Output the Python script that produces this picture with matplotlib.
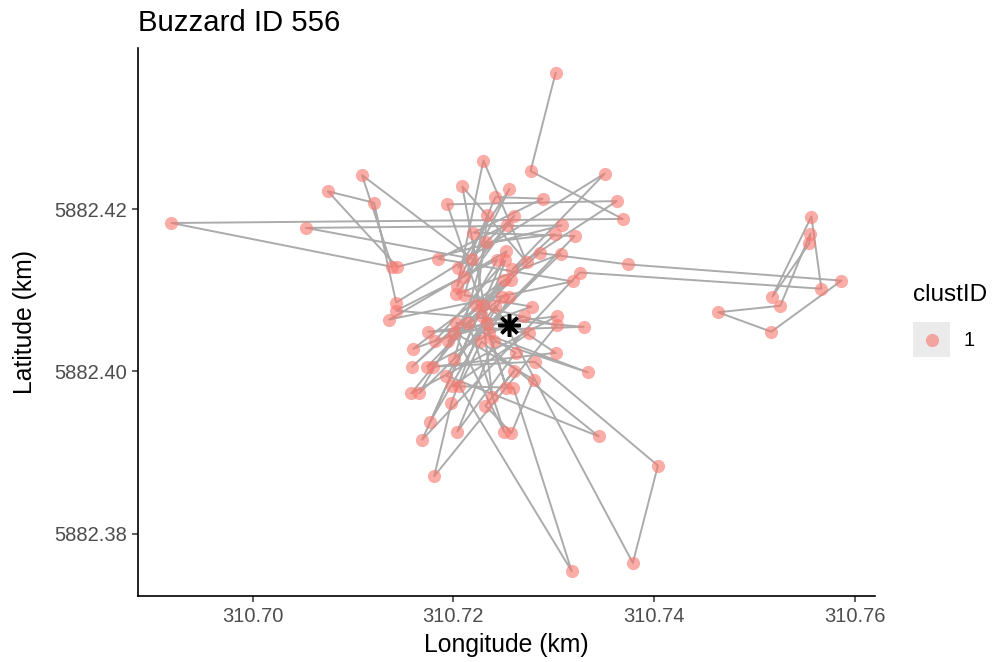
"""GPS-Track eines Mäusebussards mit Clusterzentrum."""

import matplotlib
matplotlib.use("Agg")
import matplotlib.pyplot as plt
from matplotlib.lines import Line2D
from matplotlib.patches import Rectangle

plt.rcParams["font.family"] = ["Liberation Sans", "DejaVu Sans"]

# Ortungen in zeitlicher Reihenfolge (km)
lon = [
    310.7302, 310.7277, 310.7369, 310.6919, 310.7139, 310.7109, 310.7219, 310.7053,
    310.7308, 310.7144, 310.7075, 310.7121, 310.7143, 310.7351, 310.7259, 310.7363,
    310.7194, 310.7234, 310.7209, 310.7273, 310.7230, 310.7204, 310.7242, 310.7289,
    310.7220, 310.7321, 310.7201, 310.7233, 310.7301, 310.7159, 310.7286, 310.7374,
    310.7587, 310.7517, 310.7464, 310.7526, 310.7556, 310.7555, 310.7518, 310.7557,
    310.7567, 310.7326, 310.7169, 310.7253, 310.7136, 310.7319, 310.7185, 310.7254,
    310.7211, 310.7256, 310.7205, 310.7261, 310.7203, 310.7307, 310.7166, 310.7244,
    310.7143, 310.7330, 310.7175, 310.7303, 310.7158, 310.7251, 310.7160, 310.7278,
    310.7211, 310.7234, 310.7223, 310.7303, 310.7181, 310.7198, 310.7252, 310.7182,
    310.7270, 310.7174, 310.7258, 310.7195, 310.7249, 310.7177, 310.7230, 310.7302,
    310.7180, 310.7281, 310.7404, 310.7379, 310.7242, 310.7193, 310.7345, 310.7228,
    310.7206, 310.7318, 310.7260, 310.7199, 310.7275, 310.7203, 310.7334, 310.7241,
    310.7204, 310.7262, 310.7215, 310.7251, 310.7201, 310.7280, 310.7258, 310.7232,
    310.7261, 310.7239, 310.7229, 310.7253, 310.7236, 310.7256,
]
lat = [
    5882.4368, 5882.4247, 5882.4188, 5882.4183, 5882.4129, 5882.4242, 5882.4139, 5882.4177,
    5882.4180, 5882.4129, 5882.4222, 5882.4208, 5882.4085, 5882.4244, 5882.4126, 5882.4210,
    5882.4206, 5882.4060, 5882.4228, 5882.4135, 5882.4260, 5882.4105, 5882.4215, 5882.4213,
    5882.4171, 5882.4167, 5882.4016, 5882.4159, 5882.4169, 5882.4006, 5882.4146, 5882.4132,
    5882.4112, 5882.4049, 5882.4073, 5882.4081, 5882.4170, 5882.4158, 5882.4092, 5882.4191,
    5882.4102, 5882.4122, 5882.3916, 5882.4148, 5882.4064, 5882.4111, 5882.4139, 5882.4181,
    5882.4117, 5882.4225, 5882.4128, 5882.4192, 5882.4095, 5882.4145, 5882.3973, 5882.4138,
    5882.4075, 5882.4055, 5882.4049, 5882.4068, 5882.3973, 5882.4113, 5882.4028, 5882.4080,
    5882.4094, 5882.4193, 5882.4082, 5882.4057, 5882.3871, 5882.3961, 5882.4137, 5882.4038,
    5882.4068, 5882.4006, 5882.4113, 5882.4038, 5882.4092, 5882.3938, 5882.4082, 5882.4023,
    5882.4006, 5882.4012, 5882.3884, 5882.3764, 5882.4081, 5882.3995, 5882.3920, 5882.4037,
    5882.3982, 5882.3754, 5882.3980, 5882.3982, 5882.4047, 5882.4060, 5882.3999, 5882.4037,
    5882.3926, 5882.4023, 5882.4060, 5882.3925, 5882.4048, 5882.3990, 5882.3924, 5882.3958,
    5882.4001, 5882.3969, 5882.4069, 5882.3980, 5882.4048, 5882.4092,
]

# Clusterzentrum
center_lon = [310.7256]
center_lat = [5882.4057]

clust_label = "1"
point_col = "#F8766D"

fig = plt.figure(figsize=(9.97, 6.62), dpi=100)
ax = fig.add_axes([0.1384, 0.0997, 0.7392, 0.8278])

ax.plot(lon, lat, color="#ABABAB", lw=1.4, zorder=2)
ax.plot(lon, lat, ls="none", marker="o", ms=9.5, color=point_col, alpha=0.6,
        markeredgewidth=0, zorder=3)
ax.plot(center_lon, center_lat, ls="none", marker=(8, 2, 0), ms=16,
        color="black", markeredgewidth=2.5, zorder=4)

ax.margins(0.05)
ax.set_xticks([310.70, 310.72, 310.74, 310.76])
ax.set_xticklabels(["310.70", "310.72", "310.74", "310.76"])
ax.set_yticks([5882.38, 5882.40, 5882.42])
ax.set_yticklabels(["5882.38", "5882.40", "5882.42"])

for s in ["top", "right"]:
    ax.spines[s].set_visible(False)
for s in ["left", "bottom"]:
    ax.spines[s].set_linewidth(1.2)
ax.tick_params(length=4, width=1.1, color="#333333", labelsize=14.5,
               labelcolor="#4D4D4D", pad=4)

ax.set_xlabel("Longitude (km)", fontsize=17.8, labelpad=5)
ax.set_ylabel("Latitude (km)", fontsize=17.8, labelpad=12)
ax.set_title("Buzzard ID 556", fontsize=21.2, loc="left", pad=12)

# Legende
fig.text(913 / 997, 1 - 295 / 662, "clustID", fontsize=17.5, va="center")
fig.patches.append(Rectangle((913 / 997, 1 - 357 / 662), 37 / 997, 35 / 662,
                             transform=fig.transFigure, color="#EBEBEB", lw=0))
fig.lines.append(Line2D([932 / 997], [1 - 340 / 662], transform=fig.transFigure,
                        marker="o", ms=9.5, color=point_col, alpha=0.6,
                        markeredgewidth=0, ls="none"))
fig.text(963 / 997, 1 - 340 / 662, clust_label, fontsize=14.5, va="center")

fig.savefig("out.png", dpi=100)
